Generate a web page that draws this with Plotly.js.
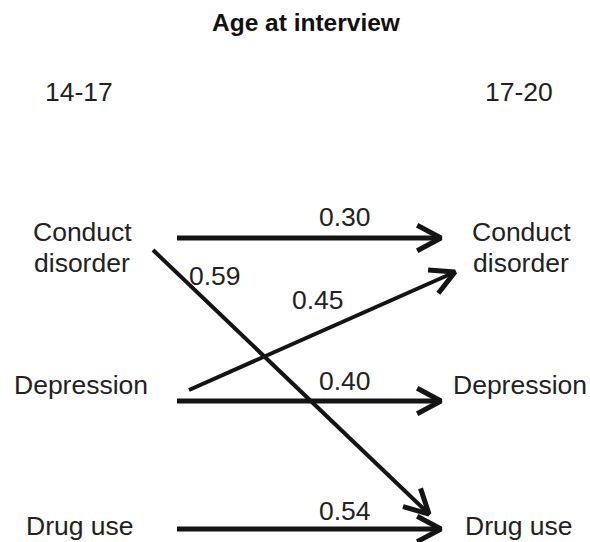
<!DOCTYPE html>
<html>
<head>
<meta charset="utf-8">
<script src="https://cdn.plot.ly/plotly-3.0.1.min.js"></script>
<style>html,body{margin:0;padding:0;background:#fff}#chart{width:590px;height:542px}</style>
</head>
<body>
<div id="chart"></div>
<script>
// ---- data ----
const chartTitle = 'Age at interview';
const ageGroups = ['14-17', '17-20'];
const variables = ['Conduct<br>disorder', 'Depression', 'Drug use'];
const pathFrom = [0, 0, 1, 1, 2];      // index into variables, at age 14-17
const pathTo = [0, 2, 0, 1, 2];        // index into variables, at age 17-20
const coefficients = [0.30, 0.59, 0.45, 0.40, 0.54];

// ---- layout geometry (pixels, y downward) ----
const titlePos = [306, 22];
const colX = [79, 519];
const ageY = 92;
const nodeY = [232, 385, 526];
const lineGap = 31;
const nodeLabelX = [[82, 81, 80], [521, 520, 519]];
// arrow endpoints per path
const geomStart = [[177, 238], [153, 250], [189, 390], [177, 401], [177, 529]];
const geomEnd = [[441, 238], [429, 514], [455, 272], [441, 401], [441, 529]];
const geomLabel = [[345, 217], [215, 276], [318, 300], [345, 381], [345, 511]];

const ink = '#141414';
const traces = [];
const annotations = [];
const fam = 'Liberation Sans, Arial, Helvetica, sans-serif';
const font = {family: fam, size: 26.5, color: '#222'};

coefficients.forEach((c, i) => {
  const [x0, y0] = geomStart[i];
  const [x1, y1] = geomEnd[i];
  const horiz = Math.abs(y1 - y0) < 1;
  traces.push({x: [x0, x1], y: [y0, y1], mode: 'lines', type: 'scatter',
    line: {color: ink, width: horiz ? 5 : 4}, hoverinfo: 'skip', showlegend: false});
  const ang = Math.atan2(y1 - y0, x1 - x0);
  const L = 27, spread = 28 * Math.PI / 180;
  const hx = [x1 - L * Math.cos(ang - spread), x1, x1 - L * Math.cos(ang + spread)];
  const hy = [y1 - L * Math.sin(ang - spread), y1, y1 - L * Math.sin(ang + spread)];
  traces.push({x: hx, y: hy, mode: 'lines', type: 'scatter',
    line: {color: ink, width: 5}, hoverinfo: 'skip', showlegend: false});
  annotations.push({x: geomLabel[i][0], y: geomLabel[i][1], xref: 'x', yref: 'y',
    text: c.toFixed(2), showarrow: false, font: font, xanchor: 'center', yanchor: 'middle'});
});

ageGroups.forEach((g, k) => {
  annotations.push({x: colX[k], y: ageY, xref: 'x', yref: 'y', text: g, showarrow: false,
    font: font, xanchor: 'center', yanchor: 'middle'});
  variables.forEach((v, j) => {
    v.split('<br>').forEach((part, p) => {
      annotations.push({x: nodeLabelX[k][j], y: nodeY[j] + p * lineGap, xref: 'x', yref: 'y',
        text: part, showarrow: false, font: font, xanchor: 'center', yanchor: 'middle'});
    });
  });
});

annotations.push({x: titlePos[0], y: titlePos[1], xref: 'x', yref: 'y',
  text: '<b>' + chartTitle + '</b>', showarrow: false,
  font: {family: fam, size: 24.5, color: '#111'}, xanchor: 'center', yanchor: 'middle'});

const layout = {
  width: 590, height: 542,
  margin: {l: 0, r: 0, t: 0, b: 0},
  paper_bgcolor: '#fff', plot_bgcolor: '#fff',
  xaxis: {range: [0, 590], visible: false, fixedrange: true},
  yaxis: {range: [542, 0], visible: false, fixedrange: true},
  annotations: annotations,
  showlegend: false
};
Plotly.newPlot('chart', traces, layout, {displayModeBar: false, staticPlot: true});
</script>
</body>
</html>
